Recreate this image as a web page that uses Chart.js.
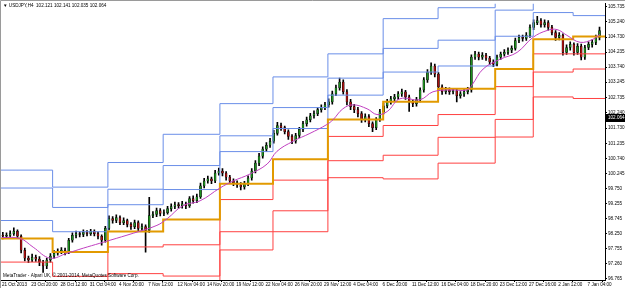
<!DOCTYPE html>
<html>
<head>
<meta charset="utf-8">
<script src="https://cdn.jsdelivr.net/npm/chart.js@4.4.1/dist/chart.umd.min.js"></script>
<style>
  html, body { margin: 0; padding: 0; background: #fff; }
</style>
</head>
<body>
<canvas id="chart" width="625" height="288"></canvas>
<script>
// USDJPY H4, one candle here = two H4 bars
const opens = [
  98.20, 98.17, 98.20, 98.26, 98.33, 98.17, 97.71, 97.45, 97.39, 97.48,
  97.42, 97.32, 97.19, 97.39, 97.52, 97.61, 97.68, 97.71, 97.65, 98.04,
  98.20, 98.26, 98.23, 98.30, 98.26, 98.33, 98.26, 98.17, 98.04, 98.43,
  98.75, 98.69, 98.79, 98.62, 98.69, 98.56, 98.49, 98.62, 98.43, 98.49,
  98.36, 98.85, 98.89, 99.02, 98.92, 98.95, 99.08, 99.15, 99.21, 99.18,
  99.24, 99.18, 99.41, 99.34, 99.47, 99.83, 99.99, 100.06, 99.99, 100.25,
  100.32, 100.25, 100.12, 99.99, 99.93, 99.86, 99.80, 99.90, 100.09, 100.32,
  100.58, 100.81, 101.04, 101.17, 101.30, 101.56, 101.82, 101.75, 101.62, 101.46,
  101.30, 101.49, 101.69, 101.88, 102.01, 102.14, 102.21, 102.34, 102.41, 102.50,
  102.60, 102.86, 103.06, 103.25, 102.93, 102.60, 102.44, 102.34, 102.21, 102.01,
  102.11, 101.88, 101.75, 102.01, 102.27, 102.47, 102.60, 102.70, 102.76, 102.86,
  102.93, 102.76, 102.60, 102.54, 102.67, 102.99, 103.32, 103.58, 103.78, 103.51,
  103.09, 102.93, 102.99, 102.93, 102.96, 102.80, 102.86, 102.93, 102.99, 104.07,
  104.17, 104.07, 104.13, 104.04, 103.91, 103.84, 104.07, 104.17, 104.23, 104.30,
  104.36, 104.62, 104.72, 104.69, 104.79, 105.05, 105.21, 105.28, 105.14, 105.21,
  105.05, 104.88, 104.72, 104.79, 104.23, 104.39, 104.49, 104.23, 104.43, 104.07,
  104.39, 104.49, 104.56, 104.72
];
const highs = [
  98.30, 98.28, 98.35, 98.45, 98.38, 98.22, 97.78, 97.52, 97.58, 97.55,
  97.50, 97.38, 97.45, 97.60, 97.70, 97.76, 97.80, 97.78, 98.10, 98.28,
  98.34, 98.32, 98.38, 98.36, 98.40, 98.38, 98.32, 98.22, 98.50, 98.84,
  98.82, 98.88, 98.84, 98.78, 98.74, 98.62, 98.70, 98.68, 98.58, 98.55,
  99.45, 98.98, 99.10, 99.08, 99.04, 99.16, 99.24, 99.30, 99.28, 99.32,
  99.30, 99.48, 99.50, 99.56, 99.92, 100.08, 100.15, 100.12, 100.34, 100.42,
  100.40, 100.30, 100.18, 100.06, 100.00, 99.94, 99.98, 100.16, 100.40, 100.66,
  100.90, 101.12, 101.26, 101.40, 101.66, 101.92, 101.90, 101.80, 101.68, 101.52,
  101.56, 101.76, 101.96, 102.10, 102.22, 102.30, 102.42, 102.50, 102.58, 102.70,
  102.95, 103.15, 103.38, 103.32, 103.00, 102.68, 102.52, 102.42, 102.28, 102.20,
  102.18, 101.94, 102.08, 102.35, 102.55, 102.68, 102.78, 102.85, 102.94, 103.02,
  102.98, 102.82, 102.66, 102.75, 103.06, 103.40, 103.66, 103.88, 103.84, 103.56,
  103.16, 103.08, 103.06, 103.04, 103.02, 102.94, 103.00, 103.08, 104.15, 104.26,
  104.24, 104.22, 104.20, 104.10, 103.98, 104.14, 104.24, 104.32, 104.38, 104.44,
  104.70, 104.80, 104.80, 104.88, 105.14, 105.30, 105.42, 105.34, 105.30, 105.28,
  105.12, 104.95, 104.88, 104.84, 104.48, 104.58, 104.54, 104.52, 104.50, 104.46,
  104.58, 104.64, 104.80, 105.06
];
const lows = [
  98.08, 98.10, 98.14, 98.20, 98.10, 97.62, 97.36, 97.30, 97.33, 97.34,
  97.20, 96.98, 97.10, 97.32, 97.45, 97.55, 97.60, 97.56, 97.60, 97.98,
  98.12, 98.15, 98.16, 98.18, 98.20, 98.18, 98.08, 97.88, 97.98, 98.38,
  98.60, 98.62, 98.55, 98.55, 98.48, 98.40, 98.42, 98.35, 98.36, 97.65,
  98.30, 98.78, 98.82, 98.84, 98.85, 98.90, 99.00, 99.08, 99.10, 99.10,
  99.08, 99.12, 99.26, 99.28, 99.42, 99.76, 99.92, 99.90, 99.94, 100.18,
  100.16, 100.02, 99.90, 99.84, 99.78, 99.70, 99.72, 99.84, 100.02, 100.26,
  100.50, 100.74, 100.96, 101.10, 101.24, 101.50, 101.66, 101.54, 101.36, 101.22,
  101.24, 101.42, 101.62, 101.80, 101.94, 102.06, 102.14, 102.26, 102.34, 102.42,
  102.52, 102.80, 102.98, 102.85, 102.50, 102.34, 102.24, 102.10, 101.92, 101.94,
  101.78, 101.62, 101.68, 101.95, 102.20, 102.40, 102.52, 102.64, 102.68, 102.78,
  102.68, 102.28, 102.44, 102.46, 102.60, 102.92, 103.24, 103.50, 103.42, 102.98,
  102.84, 102.86, 102.84, 102.86, 102.60, 102.72, 102.78, 102.86, 102.92, 104.00,
  103.98, 104.00, 103.96, 103.82, 103.76, 103.78, 104.00, 104.10, 104.16, 104.22,
  104.30, 104.55, 104.60, 104.62, 104.72, 104.98, 105.14, 105.06, 105.06, 104.96,
  104.80, 104.62, 104.64, 104.14, 104.16, 104.30, 104.14, 104.16, 103.98, 104.00,
  104.32, 104.40, 104.48, 104.64
];
const closes = [
  98.17, 98.20, 98.26, 98.33, 98.17, 97.71, 97.45, 97.39, 97.48, 97.42,
  97.32, 97.19, 97.39, 97.52, 97.61, 97.68, 97.71, 97.65, 98.04, 98.20,
  98.26, 98.23, 98.30, 98.26, 98.33, 98.26, 98.17, 98.04, 98.43, 98.75,
  98.69, 98.79, 98.62, 98.69, 98.56, 98.49, 98.62, 98.43, 98.49, 98.36,
  98.85, 98.89, 99.02, 98.92, 98.95, 99.08, 99.15, 99.21, 99.18, 99.24,
  99.18, 99.41, 99.34, 99.47, 99.83, 99.99, 100.06, 99.99, 100.25, 100.32,
  100.25, 100.12, 99.99, 99.93, 99.86, 99.80, 99.90, 100.09, 100.32, 100.58,
  100.81, 101.04, 101.17, 101.30, 101.56, 101.82, 101.75, 101.62, 101.46, 101.30,
  101.49, 101.69, 101.88, 102.01, 102.14, 102.21, 102.34, 102.41, 102.50, 102.60,
  102.86, 103.06, 103.25, 102.93, 102.60, 102.44, 102.34, 102.21, 102.01, 102.11,
  101.88, 101.75, 102.01, 102.27, 102.47, 102.60, 102.70, 102.76, 102.86, 102.93,
  102.76, 102.60, 102.54, 102.67, 102.99, 103.32, 103.58, 103.78, 103.51, 103.09,
  102.93, 102.99, 102.93, 102.96, 102.80, 102.86, 102.93, 102.99, 104.07, 104.17,
  104.07, 104.13, 104.04, 103.91, 103.84, 104.07, 104.17, 104.23, 104.30, 104.36,
  104.62, 104.72, 104.69, 104.79, 105.05, 105.21, 105.28, 105.14, 105.21, 105.05,
  104.88, 104.72, 104.79, 104.23, 104.39, 104.49, 104.23, 104.43, 104.07, 104.39,
  104.49, 104.56, 104.72, 104.95
];

// moving average (candle index, price)
const maX = [-0.3, 4.7, 8.3, 12.9, 17.5, 22, 26.5, 29.3, 35.6, 42.1, 44.9, 49.2, 53.9, 59.3, 62.9,
  67.5, 72.2, 74.9, 79.3, 83.9, 88.5, 90.2, 92.9, 95.7, 99.5, 102.2, 105, 108.5, 114, 117.5,
  122.2, 126.8, 128.2, 131.2, 135.8, 140.5, 144.8, 148.7, 151.4, 154.1, 157.7, 161.2, 163.1];
const maY = [98.13, 98.10, 97.81, 97.45, 97.61, 97.78, 97.94, 98.04, 98.27, 98.53, 98.75, 99.18, 99.34, 99.76, 99.99,
  100.22, 100.55, 100.97, 101.30, 101.56, 101.85, 102.01, 102.37, 102.50, 102.37, 102.18, 102.28, 102.70, 102.67, 102.93,
  102.99, 102.99, 103.16, 103.68, 104.00, 104.23, 104.72, 104.95, 104.98, 104.79, 104.56, 104.66, 104.82];

// weekly pivot levels, one value per week
const weekBreaks = [-0.5, 13.6, 28.7, 43.8, 59.3, 73.8, 88.8, 103.9, 118.9, 134.5, 144.9, 155.8, 164.5];
const pivot = [98.10, 97.65, 98.33, 98.72, 99.90, 100.71, 102.02, 102.60, 103.03, 103.68, 104.66, 104.75];
const r1 = [98.69, 98.32, 99.21, 99.71, 100.96, 101.72, 102.82, 103.58, 103.78, 104.76, 105.54, 105.44];
const r2 = [99.76, 99.12, 99.72, 100.50, 101.48, 102.41, 103.38, 104.36, 104.63, 105.62, 106.02, 106.03];
const r3 = [100.35, 99.79, 100.60, 101.53, 102.54, 103.42, 104.18, 105.34, 105.70, 106.42, 106.90, 107.00];
const s1 = [97.32, 96.85, 97.82, 97.89, 99.38, 100.02, 101.46, 101.82, 102.18, 103.10, 104.18, 104.18];
const s2 = [96.44, 96.18, 96.94, 96.86, 98.32, 99.01, 100.66, 100.84, 101.43, 102.02, 103.58, 103.68];
const s3 = [95.80, 95.50, 96.43, 96.07, 97.72, 98.32, 100.10, 100.06, 100.58, 101.44, 102.76, 102.71];

const xTickPos = [-0.25, 7.75, 15.75, 23.75, 31.75, 39.75, 47.75, 55.75, 63.75, 71.75, 79.75,
  87.75, 95.75, 103.75, 111.75, 119.75, 127.75, 135.75, 143.75, 151.75, 159.75];
const xTickLabels = ['21 Oct 2013', '23 Oct 20:00', '28 Oct 12:00', '31 Oct 04:00', '4 Nov 20:00',
  '7 Nov 12:00', '12 Nov 04:00', '14 Nov 20:00', '19 Nov 12:00', '22 Nov 04:00', '26 Nov 20:00',
  '29 Nov 12:00', '4 Dec 04:00', '6 Dec 20:00', '11 Dec 12:00', '16 Dec 04:00', '18 Dec 20:00',
  '23 Dec 12:00', '27 Dec 16:00', '2 Jan 12:00', '7 Jan 04:00'];
const yTickPos = [96.765, 97.26, 97.755, 98.25, 98.745, 99.255, 99.75, 100.245, 100.74, 101.235,
  101.73, 102.24, 102.735, 103.245, 103.74, 104.235, 104.73, 105.24, 105.735];
const yTickLabels = ['96.765', '97.260', '97.755', '98.250', '98.745', '99.255', '99.750', '100.245', '100.740', '101.235',
  '101.730', '102.240', '102.735', '103.245', '103.740', '104.235', '104.730', '105.240', '105.735'];

const lastPrice = 102.064;
const header = '\u25BC USDJPY,H4  102.121 102.141 102.035 102.064';
const footer = 'MetaTrader - Alpari UK, \u00A9 2001-2014, MetaQuotes Software Corp.';

const FONT = '"Liberation Sans", Arial, sans-serif';
Chart.defaults.font.family = FONT;
Chart.defaults.font.size = 4.6;
Chart.defaults.color = '#000';

const idx = closes.map((_, i) => i);

function steps(levels) {
  const pts = levels.map((v, k) => ({ x: weekBreaks[k], y: v }));
  pts.push({ x: weekBreaks[levels.length], y: levels[levels.length - 1] });
  return pts;
}

function stepLine(levels, color, width) {
  return {
    type: 'line', data: steps(levels), stepped: 'before',
    borderColor: color, borderWidth: width, pointRadius: 0, fill: false, order: 1
  };
}

const overlay = {
  id: 'overlay',
  afterDraw(chart) {
    const c = chart.ctx;
    const area = chart.chartArea;
    c.save();
    c.strokeStyle = '#9a9a9a';
    c.lineWidth = 1;
    c.beginPath();
    c.moveTo(0.5, 288);
    c.lineTo(0.5, 0.5);
    c.lineTo(625, 0.5);
    c.stroke();
    c.font = '4.6px ' + FONT;
    c.fillStyle = '#000';
    c.textBaseline = 'middle';
    c.textAlign = 'left';
    c.fillText(header, 3, 5.5);
    c.fillText(footer, 3, 276);
    const py = Math.round(chart.scales.y.getPixelForValue(lastPrice));
    c.fillRect(area.right + 1, py - 4, 625 - area.right - 1, 8);
    c.fillStyle = '#fff';
    c.fillText('102.064', area.right + 3, py);
    c.restore();
  }
};

new Chart(document.getElementById('chart'), {
  type: 'bar',
  data: {
    datasets: [
      { type: 'line', data: maX.map((x, i) => ({ x: x, y: maY[i] })), borderColor: '#c040c0',
        borderWidth: 1, pointRadius: 0, tension: 0.4, fill: false, order: 0 },
      stepLine(pivot, '#e29a00', 2),
      stepLine(r1, '#6a8ee8', 1),
      stepLine(r2, '#6a8ee8', 1),
      stepLine(r3, '#6a8ee8', 1),
      stepLine(s1, '#ff4040', 1),
      stepLine(s2, '#ff4040', 1),
      stepLine(s3, '#ff4040', 1),
      { data: idx.map(i => ({ x: i, y: [opens[i], closes[i]] })),
        backgroundColor: idx.map(i => closes[i] >= opens[i] ? '#1f8f1f' : '#a81010'),
        borderColor: '#000', borderWidth: 0.5, borderSkipped: false,
        barThickness: 2, minBarLength: 1, order: 5 },
      { data: idx.map(i => ({ x: i, y: [lows[i], highs[i]] })),
        backgroundColor: '#000', barThickness: 1, order: 6 }
    ]
  },
  options: {
    responsive: false,
    devicePixelRatio: 1,
    animation: false,
    events: [],
    layout: { padding: { top: 1, left: 1, right: 0, bottom: 0 } },
    datasets: { bar: { grouped: false } },
    plugins: { legend: { display: false }, tooltip: { enabled: false } },
    scales: {
      x: {
        type: 'linear', min: -0.5, max: 164.5, offset: false,
        border: { display: true, color: '#000', width: 1 },
        grid: { drawOnChartArea: false, drawTicks: true, tickLength: 2, color: '#000' },
        afterBuildTicks: s => { s.ticks = xTickPos.map(v => ({ value: v })); },
        afterFit: s => { s.height = 8; },
        ticks: { autoSkip: false, maxRotation: 0, align: 'start', padding: 0,
          callback: (v, i) => xTickLabels[i] }
      },
      y: {
        position: 'right', min: 96.73, max: 105.83,
        border: { display: true, color: '#000', width: 1 },
        grid: { drawOnChartArea: false, drawTicks: true, tickLength: 2, color: '#000' },
        afterBuildTicks: s => { s.ticks = yTickPos.map(v => ({ value: v })); },
        afterFit: s => { s.width = 20; },
        ticks: { autoSkip: false, padding: 1, callback: (v, i) => yTickLabels[i] }
      }
    }
  },
  plugins: [overlay]
});
</script>
</body>
</html>
